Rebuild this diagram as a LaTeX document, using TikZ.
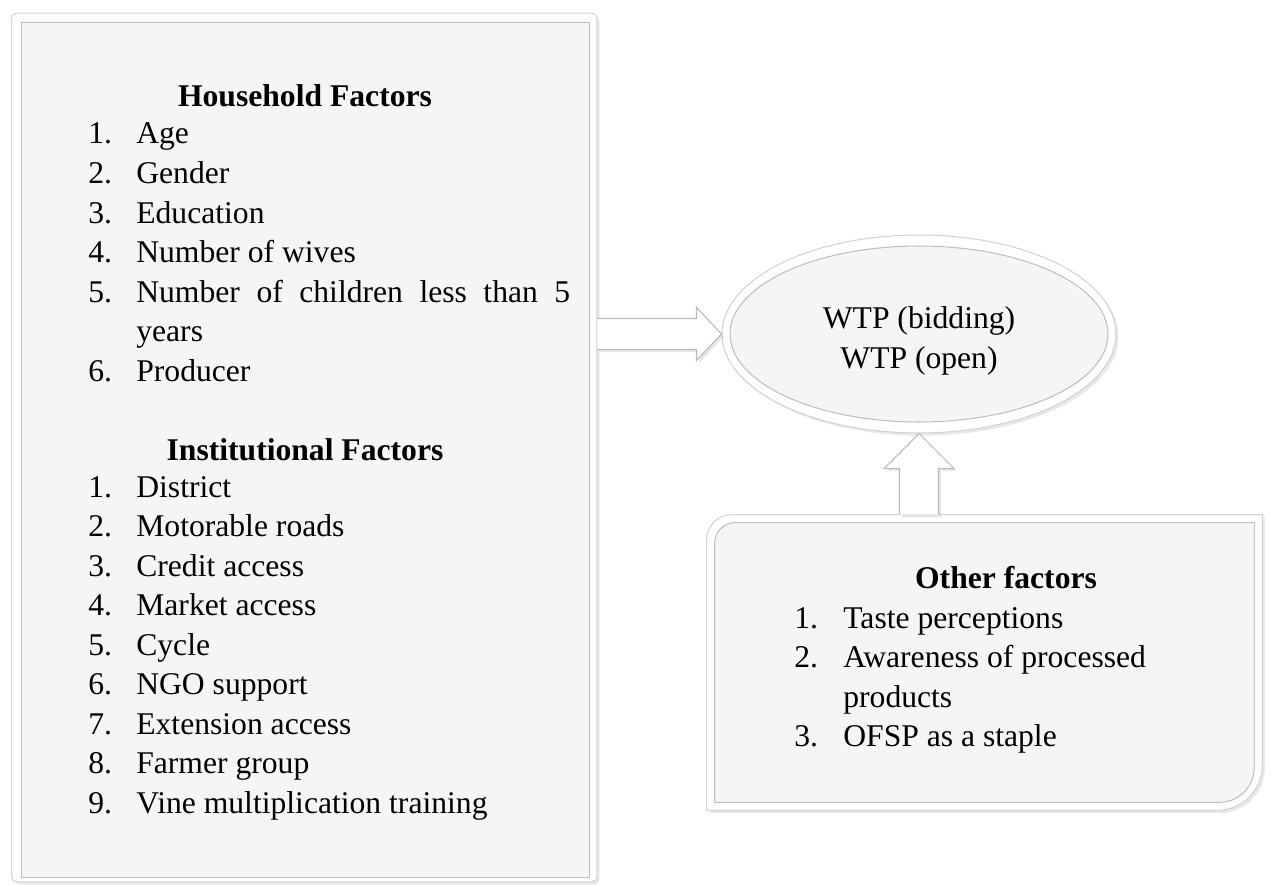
\documentclass[tikz,border=0pt]{standalone}
\usepackage{fontspec}
\setmainfont{Liberation Serif}
\usetikzlibrary{shapes.geometric,shadows,calc}

\begin{document}
\begin{tikzpicture}[x=0.02cm,y=0.02cm,
    every node/.style={font=\fontsize{18}{22.5}\selectfont,inner sep=0pt},
    headtext/.style={font=\fontsize{18}{22.5}\selectfont\bfseries},
    frame/.style={fill=white,draw=gray!35,line width=0.6pt,drop shadow={opacity=0.18,shadow xshift=1.5pt,shadow yshift=-1.5pt}},
    panel/.style={fill=gray!8,draw=gray!50,line width=0.6pt},
    blockarrow/.style={fill=white,draw=gray!55,line width=0.6pt,drop shadow={opacity=0.18,shadow xshift=1.5pt,shadow yshift=-1.5pt}}]

    \useasboundingbox (0,0) rectangle (1271,-885);

    % household and institutional factors
    \node[frame,rounded corners=3pt,minimum width=11.71cm,minimum height=17.38cm] (hh) at (304.25,-447.5) {};
    \node[panel,minimum width=11.38cm,minimum height=17.12cm] (hhin) at (305.5,-450) {};
    \node[headtext,anchor=base] (hhtitle) at (305,-107) {Household Factors};
    \node[anchor=base west] (hhlist) at (88,-144) {\begin{tabular}[t]{@{}p{0.96cm}@{}l@{}}
        1. & Age\\
        2. & Gender\\
        3. & Education\\
        4. & Number of wives\\
        5. & \makebox[8.68cm][s]{Number of children less than 5}\\
           & years\\
        6. & Producer
      \end{tabular}};
    \node[headtext,anchor=base] (insttitle) at (305,-460) {Institutional Factors};
    \node[anchor=base west] (instlist) at (88,-497) {\begin{tabular}[t]{@{}p{0.96cm}@{}l@{}}
        1. & District\\
        2. & Motorable roads\\
        3. & Credit access\\
        4. & Market access\\
        5. & Cycle\\
        6. & NGO support\\
        7. & Extension access\\
        8. & Farmer group\\
        9. & Vine multiplication training
      \end{tabular}};

    % WTP
    \node[frame,ellipse,minimum width=7.88cm,minimum height=3.96cm] (wtp) at (919,-334) {};
    \node[panel,ellipse,minimum width=7.56cm,minimum height=3.52cm] (wtpin) at (wtp.center) {};
    \node[align=center] (wtptext) at (919,-341) {WTP (bidding)\\WTP (open)};

    % other factors
    \node[minimum width=11.1cm,minimum height=5.9cm] (other) at (984.5,-662.5) {};
    \draw[frame] (other.south west) -- ($(other.north west)+(0,-25)$) arc[start angle=180,end angle=90,radius=0.5cm]
        -- (other.north east) -- ($(other.south east)+(0,45)$) arc[start angle=0,end angle=-90,radius=0.9cm] -- cycle;
    \draw[panel] ($(other.south west)+(8,8)$) -- ($(other.north west)+(8,-28)$) arc[start angle=180,end angle=90,radius=0.4cm]
        -- ($(other.north east)+(-8,-8)$) -- ($(other.south east)+(-8,43)$) arc[start angle=0,end angle=-90,radius=0.7cm] -- cycle;
    \node[headtext,anchor=base] (othertitle) at (1006,-588) {Other factors};
    \node[anchor=base west] (otherlist) at (794,-628) {\begin{tabular}[t]{@{}p{0.98cm}@{}l@{}}
        1. & Taste perceptions\\
        2. & Awareness of processed\\
           & products\\
        3. & OFSP as a staple
      \end{tabular}};

    % arrows
    \draw[blockarrow] ($(hh.east |- wtp.west)+(0,15.5)$) -- ($(wtp.west)+(-25,15.5)$) -- ($(wtp.west)+(-25,26.5)$)
        -- (wtp.west) -- ($(wtp.west)+(-25,-26.5)$) -- ($(wtp.west)+(-25,-15.5)$) -- ($(hh.east |- wtp.west)+(0,-15.5)$);
    \draw[blockarrow] ($(other.north -| wtp.south)+(-19.5,0)$) -- ($(wtp.south)+(-19.5,-35)$) -- ($(wtp.south)+(-35,-35)$)
        -- (wtp.south) -- ($(wtp.south)+(35,-35)$) -- ($(wtp.south)+(19.5,-35)$) -- ($(other.north -| wtp.south)+(19.5,0)$);
\end{tikzpicture}
\end{document}
